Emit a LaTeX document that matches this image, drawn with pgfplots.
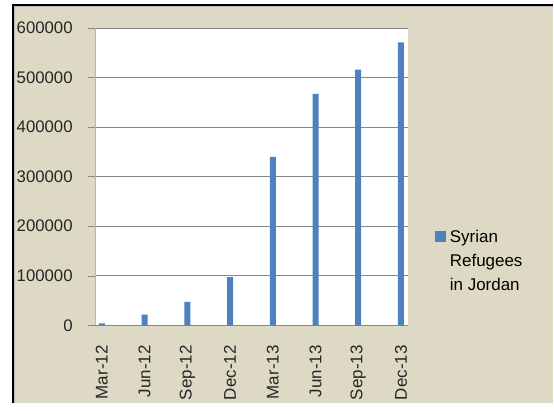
\documentclass[border=0pt]{standalone}
\usepackage{pgfplots}
\pgfplotsset{compat=1.18}
\usepackage{fontspec}
\setmainfont{Liberation Sans}
\definecolor{bgc}{RGB}{222,217,196}
\definecolor{barblue}{RGB}{79,129,189}
\definecolor{gridc}{RGB}{134,134,134}
\begin{document}
\begin{tikzpicture}[x=1pt,y=1pt]
\fill[white] (0,0) rectangle (554,404);
\fill[bgc] (13,0) rectangle (554,399);
\draw[black, line width=2.5pt] (13,0) -- (13,399) -- (554,399);
\draw[gridc!60, line width=0.8pt] (14.5,0) -- (14.5,397.5) -- (554,397.5);
\begin{axis}[
  at={(95pt,78pt)}, anchor=south west,
  scale only axis, width=314pt, height=298pt,
  xmin=0, xmax=22, ymin=0, ymax=600000,
  axis background/.style={fill=white},
  axis x line*=bottom, axis y line*=left,
  axis line style={gridc},
  x axis line style={gridc},
  y axis line style={gridc!60},
  ybar, bar width=6pt, bar shift=0pt,
  xtick={0.5,3.5,6.5,9.5,12.5,15.5,18.5,21.5},
  xticklabels={Mar-12,Jun-12,Sep-12,Dec-12,Mar-13,Jun-13,Sep-13,Dec-13},
  x tick style={draw=none},
  extra x ticks={0,3,6,9,12,15,18,21},
  extra x tick labels={,,,,,,,},
  extra x tick style={tick style={draw=gridc}, major tick length=7pt, tick align=outside, grid=none},
  ytick={0,100000,200000,300000,400000,500000,600000},
  yticklabels={0,100000,200000,300000,400000,500000,600000},
  ymajorgrids, grid style={gridc, line width=0.8pt},
  y tick style={gridc}, tick align=outside, major tick length=7pt,
  scaled y ticks=false,
  ticklabel style={font=\fontsize{17}{20}\selectfont, text=black!85},
  yticklabel style={anchor=east, inner sep=0pt, xshift=-15pt, font=\fontsize{16.8}{20}\selectfont},
  xticklabel style={rotate=90, anchor=east, inner ysep=0pt, inner xsep=13pt},
  legend style={at={(1.085,0.328)}, anchor=north west, draw=none, fill=none,
    font=\fontsize{17}{24}\selectfont, cells={anchor=west, align=left}, inner sep=0pt},
  legend image code/.code={\fill[barblue] (0pt,19pt) rectangle (11pt,30pt); \path (13pt,0pt);},
]
\addplot[fill=barblue, draw=none] coordinates {
(0.5,4000) (3.5,21500) (6.5,47000) (9.5,97000)
(12.5,340000) (15.5,467000) (18.5,516000) (21.5,571000)};
\addlegendentry{{Syrian\\Refugees\\in Jordan}}
\end{axis}
\end{tikzpicture}
\end{document}
